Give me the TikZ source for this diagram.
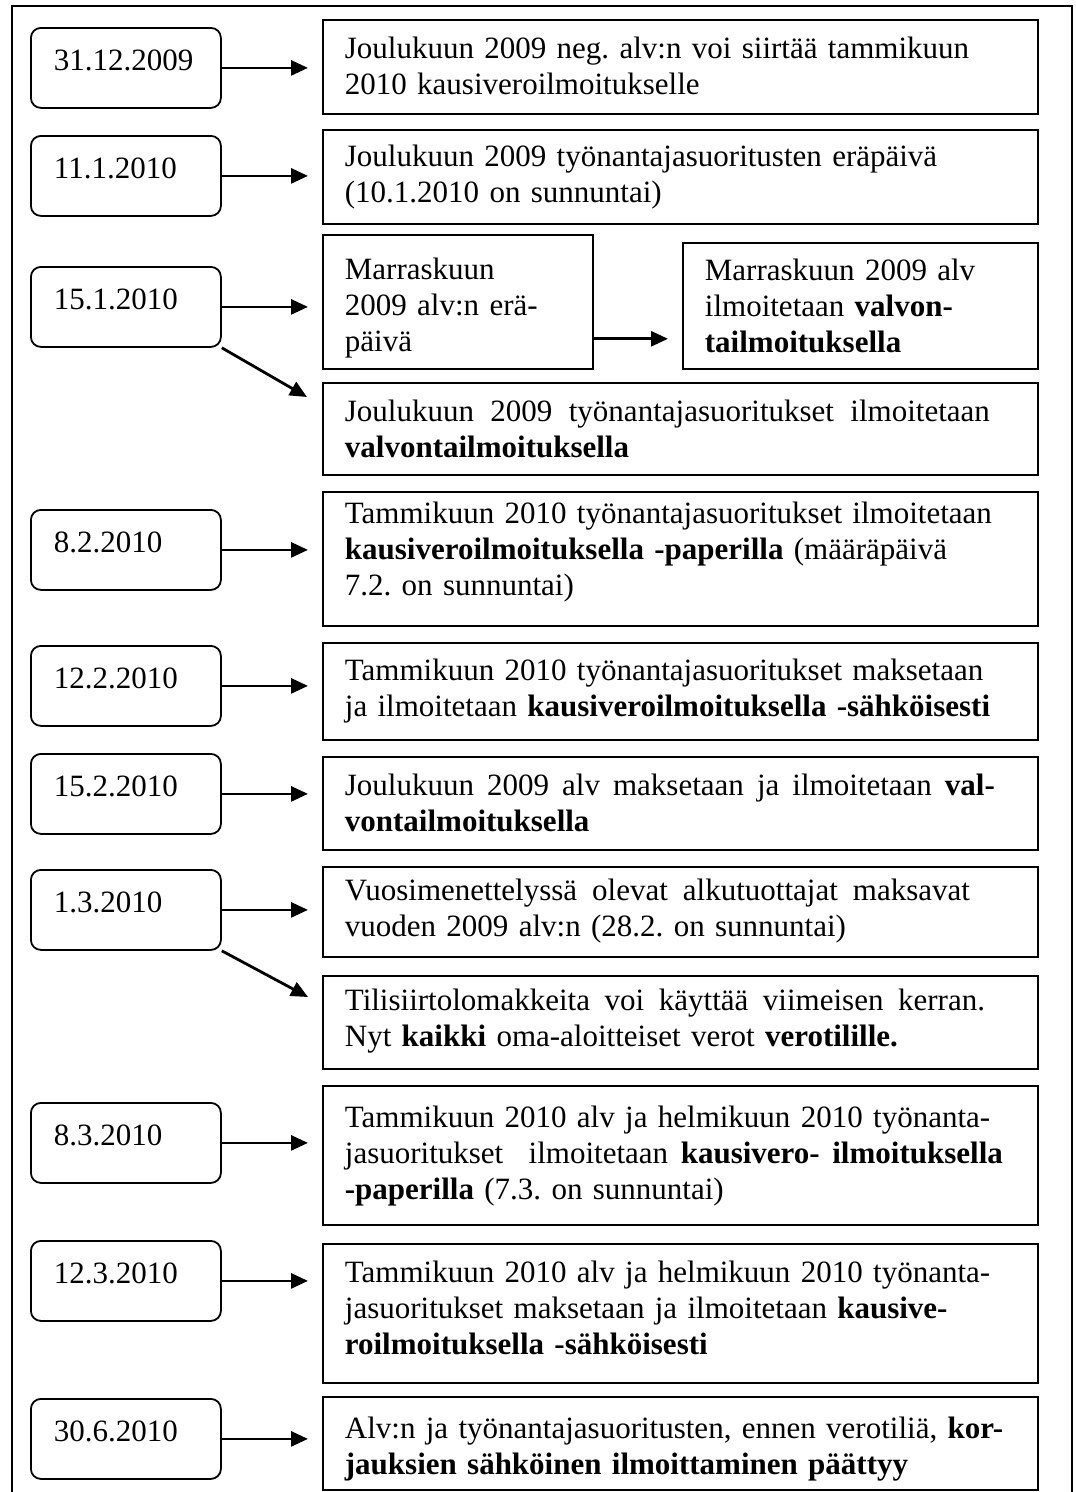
\documentclass[tikz,border=0pt]{standalone}
\usepackage{fontspec}
\setmainfont{Liberation Serif}
\usetikzlibrary{arrows.meta,calc}
\newcommand\jline[2]{\makebox[#1][s]{\spaceskip=.3333em plus 1fil\relax #2}}
\begin{document}
\frenchspacing
\begin{tikzpicture}[x=1pt,y=-1pt,
  txt/.style={font=\fontsize{31pt}{36pt}\selectfont\frenchspacing},
  datebox/.style={txt,draw,line width=1.8pt,rounded corners=10pt,anchor=north west,
    inner xsep=23pt,inner ysep=0pt,text width=144pt,align=left,
    text height=43pt,text depth=37pt},
  infobox/.style={txt,draw,line width=1.8pt,anchor=north west,inner xsep=22pt,
    inner ysep=0pt,align=left},
  wide/.style={text width=671pt},
  box/.style 2 args={text height=#1pt,text depth=#2pt},
  arr/.style={line width=2.8pt,-{Triangle[length=17pt,width=15pt]}},
  harr/.style={arr,shorten >=14pt}]
\useasboundingbox (0,0) rectangle (1076,1492);
\draw[line width=2.6pt] (12,1500) -- (12,6) -- (1072,6) -- (1072,1500);

% date boxes
\node[datebox] (d1) at (30,27) {31.12.2009};
\node[datebox] (d2) at (30,135) {11.1.2010};
\node[datebox] (d3) at (30,266) {15.1.2010};
\node[datebox] (d4) at (30,509) {8.2.2010};
\node[datebox] (d5) at (30,645) {12.2.2010};
\node[datebox] (d6) at (30,753) {15.2.2010};
\node[datebox] (d7) at (30,869) {1.3.2010};
\node[datebox] (d8) at (30,1102) {8.3.2010};
\node[datebox] (d9) at (30,1240) {12.3.2010};
\node[datebox] (d10) at (30,1398) {30.6.2010};

% info boxes
\node[infobox,wide,box={39}{55}] (t1) at (322,19)
  {Joulukuun 2009 neg. alv:n voi siirtää tammikuun\\2010 kausiveroilmoitukselle};
\node[infobox,wide,box={37}{57}] (t2) at (322,129)
  {Joulukuun 2009 työnantajasuoritusten eräpäivä\\(10.1.2010 on sunnuntai)};
\node[infobox,text width=226pt,box={45}{89}] (t3a) at (322,234)
  {Marraskuun\\2009 alv:n erä-\\päivä};
\node[infobox,text width=311pt,box={38}{88}] (t3b) at (682,242)
  {Marraskuun 2009 alv\\ilmoitetaan \textbf{valvon-}\\\textbf{tailmoituksella}};
\node[infobox,wide,box={39}{53}] (t3c) at (322,382)
  {\jline{645pt}{Joulukuun 2009 työnantajasuoritukset ilmoitetaan}\\\textbf{valvontailmoituksella}};
\node[infobox,wide,box={32}{102}] (t4) at (322,491)
  {Tammikuun 2010 työnantajasuoritukset ilmoitetaan\\\textbf{kausiveroilmoituksella -paperilla} (määräpäivä\\7.2. on sunnuntai)};
\node[infobox,wide,box={38}{59}] (t5) at (322,642)
  {Tammikuun 2010 työnantajasuoritukset maksetaan\\ja ilmoitetaan \textbf{kausiveroilmoituksella -sähköisesti}};
\node[infobox,wide,box={39}{54}] (t6) at (322,756)
  {\jline{650pt}{Joulukuun 2009 alv maksetaan ja ilmoitetaan \textbf{val-}}\\\textbf{vontailmoituksella}};
\node[infobox,wide,box={34}{56}] (t7a) at (322,866)
  {\jline{625pt}{Vuosimenettelyssä olevat alkutuottajat maksavat}\\vuoden 2009 alv:n (28.2. on sunnuntai)};
\node[infobox,wide,box={35}{58}] (t7b) at (322,975)
  {\jline{640pt}{Tilisiirtolomakkeita voi käyttää viimeisen kerran.}\\Nyt \textbf{kaikki} oma-aloitteiset verot \textbf{verotilille.}};
\node[infobox,wide,box={42}{97}] (t8) at (322,1085)
  {Tammikuun 2010 alv ja helmikuun 2010 työnanta-\\\jline{658pt}{jasuoritukset\ \ ilmoitetaan \textbf{kausivero- ilmoituksella}}\\\textbf{-paperilla} (7.3. on sunnuntai)};
\node[infobox,wide,box={39}{100}] (t9) at (322,1243)
  {Tammikuun 2010 alv ja helmikuun 2010 työnanta-\\jasuoritukset maksetaan ja ilmoitetaan \textbf{kausive-}\\\textbf{roilmoituksella -sähköisesti}};
\node[infobox,wide,box={42}{51}] (t10) at (322,1396)
  {Alv:n ja työnantajasuoritusten, ennen verotiliä, \textbf{kor-}\\\textbf{jauksien sähköinen ilmoittaminen päättyy}};

% arrows
\draw[harr] (d1.east) -- (d1.east -| t1.west);
\draw[harr] (d2.east) -- (d2.east -| t2.west);
\draw[harr] (d3.east) -- (d3.east -| t3a.west);
\draw[arr] (d3.south east) -- ($(t3c.north west)+(-15,15)$);
\draw[harr] ($(t3a.south east)+(0,-31)$) coordinate (m3) -- (m3 -| t3b.west);
\draw[harr] (d4.east) -- (d4.east -| t4.west);
\draw[harr] (d5.east) -- (d5.east -| t5.west);
\draw[harr] (d6.east) -- (d6.east -| t6.west);
\draw[harr] (d7.east) -- (d7.east -| t7a.west);
\draw[arr] (d7.south east) -- ($(t7b.north west)+(-14,22)$);
\draw[harr] (d8.east) -- (d8.east -| t8.west);
\draw[harr] (d9.east) -- (d9.east -| t9.west);
\draw[harr] (d10.east) -- (d10.east -| t10.west);
\end{tikzpicture}
\end{document}
